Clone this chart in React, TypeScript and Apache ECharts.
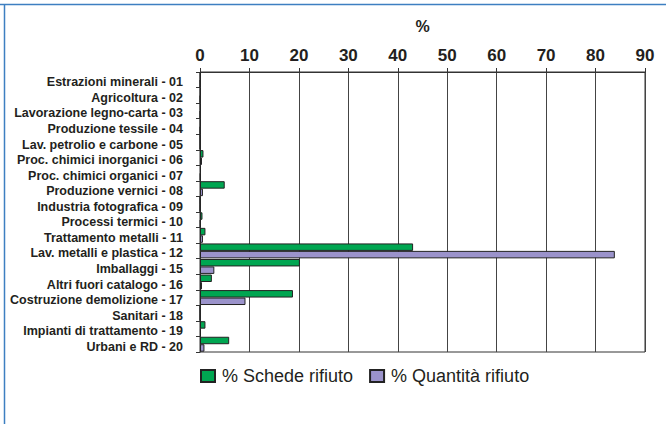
import React, { useEffect, useRef } from "react";
import * as echarts from "echarts";

const categories = [
  "Estrazioni minerali - 01",
  "Agricoltura - 02",
  "Lavorazione legno-carta - 03",
  "Produzione tessile - 04",
  "Lav. petrolio e carbone - 05",
  "Proc. chimici inorganici - 06",
  "Proc. chimici organici - 07",
  "Produzione vernici - 08",
  "Industria fotografica - 09",
  "Processi termici - 10",
  "Trattamento metalli - 11",
  "Lav. metalli e plastica - 12",
  "Imballaggi - 15",
  "Altri fuori catalogo - 16",
  "Costruzione demolizione - 17",
  "Sanitari - 18",
  "Impianti di trattamento - 19",
  "Urbani e RD - 20",
];

const schede = [0.1, 0.1, 0.1, 0.1, 0, 0.7, 0.2, 5.0, 0, 0.5, 1.1, 43.1, 20.2, 2.4, 18.8, 0, 1.1, 5.9];
const quantita = [0, 0, 0, 0, 0, 0.4, 0.1, 0.6, 0, 0.1, 0.6, 83.9, 2.9, 0.4, 9.2, 0, 0.2, 0.9];

const xTicks = { min: 0, max: 90, interval: 10 };

const FONT = '"Liberation Sans", Arial, sans-serif';

export default function App() {
  const ref = useRef<HTMLDivElement>(null);
  useEffect(() => {
    const chart = echarts.init(ref.current!, undefined, { renderer: "svg" });
    chart.setOption({
      animation: false,
      backgroundColor: "#ffffff",
      grid: {
        left: 200,
        right: 21,
        top: 72,
        bottom: 72,
        show: true,
        borderColor: "#333",
        borderWidth: 1,
      },
      legend: {
        left: 195,
        top: 362,
        itemWidth: 14,
        itemHeight: 12,
        itemGap: 16,
        icon: "rect",
        textStyle: { fontFamily: FONT, fontSize: 18, color: "#231f20", padding: [0, 0, 0, 2] },
        data: ["% Schede rifiuto", "% Quantità rifiuto"],
      },
      xAxis: {
        type: "value",
        position: "top",
        min: xTicks.min,
        max: xTicks.max,
        interval: xTicks.interval,
        name: "%",
        nameLocation: "middle",
        nameGap: 38,
        nameTextStyle: { fontFamily: FONT, fontSize: 16, fontWeight: "bold", color: "#231f20" },
        axisLine: { show: true, lineStyle: { color: "#333", width: 1 } },
        axisTick: { show: true, length: 4, lineStyle: { color: "#333" } },
        axisLabel: { margin: 8, fontFamily: FONT, fontSize: 17, fontWeight: "bold", color: "#231f20" },
        splitLine: { show: true, lineStyle: { color: "#444", width: 1 } },
      },
      yAxis: {
        type: "category",
        inverse: true,
        data: categories,
        axisLine: { show: true, lineStyle: { color: "#333", width: 1 } },
        axisTick: { show: true, length: 4, alignWithLabel: false, lineStyle: { color: "#333" } },
        axisLabel: {
          margin: 17,
          interval: 0,
          formatter: (v: string) => "{a|" + v + "}",
          rich: {
            a: {
              fontFamily: FONT,
              fontSize: 12.5,
              fontWeight: "bold",
              color: "#231f20",
              padding: [5, 0, 0, 0],
            },
          },
        },
        splitLine: { show: false },
      },
      series: [
        {
          name: "% Schede rifiuto",
          type: "bar",
          data: schede,
          barGap: "0%",
          barCategoryGap: "4%",
          itemStyle: { color: "#00a651", borderColor: "#222", borderWidth: 1 },
        },
        {
          name: "% Quantità rifiuto",
          type: "bar",
          data: quantita,
          barGap: "0%",
          barCategoryGap: "4%",
          itemStyle: { color: "#9b93cb", borderColor: "#222", borderWidth: 1 },
        },
      ],
      graphic: [
        { type: "line", shape: { x1: 0, y1: 4.5, x2: 666, y2: 4.5 }, style: { stroke: "#3d7fc1", lineWidth: 1.5 } },
        { type: "line", shape: { x1: 4.5, y1: 4, x2: 4.5, y2: 424 }, style: { stroke: "#3d7fc1", lineWidth: 1.5 } },
      ],
    });
    return () => chart.dispose();
  }, []);
  return (
    <div
      ref={ref}
      style={{ position: "absolute", left: 0, top: 0, width: 666, height: 424 }}
    />
  );
}
